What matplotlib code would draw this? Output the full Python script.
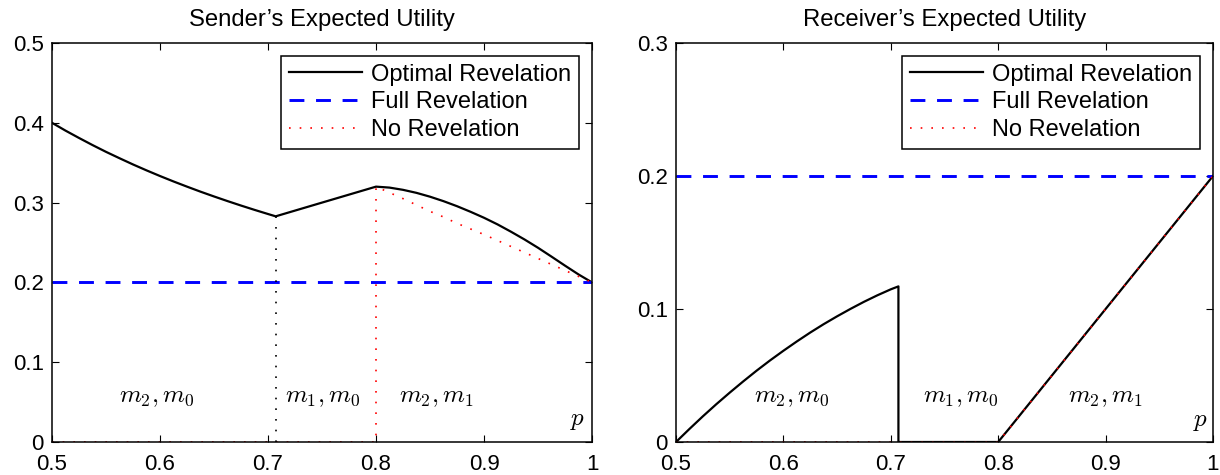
import matplotlib
matplotlib.use("Agg")
import matplotlib.pyplot as plt

plt.rcParams['font.family'] = ['Liberation Sans', 'DejaVu Sans']
plt.rcParams['mathtext.fontset'] = 'cm'

# ---------------- data ----------------
P_STAR = 0.7071
P_B = 0.8

# Sender: optimal revelation
s_opt_p = [0.5, 0.5125, 0.525, 0.5375, 0.55, 0.5625, 0.575, 0.5875, 0.6, 0.6125,
           0.625, 0.6375, 0.65, 0.6625, 0.675, 0.6875, 0.7, P_STAR,
           0.75, P_B,
           0.8125, 0.825, 0.8375, 0.85, 0.8625, 0.875, 0.8875, 0.9, 0.9125,
           0.925, 0.9375, 0.95, 0.9625, 0.975, 0.9875, 1.0]
s_opt_v = [0.4000, 0.3902, 0.3810, 0.3721, 0.3636, 0.3556, 0.3478, 0.3404, 0.3333, 0.3265,
           0.3200, 0.3137, 0.3077, 0.3019, 0.2963, 0.2909, 0.2857, 0.2828,
           0.3000, 0.3200,
           0.3188, 0.3160, 0.3122, 0.3074, 0.3018, 0.2955, 0.2885, 0.2810, 0.2727,
           0.2635, 0.2538, 0.2434, 0.2323, 0.2210, 0.2100, 0.2000]
# Sender: no revelation
s_no_p = [0.5, P_B, P_B, 0.8125, 0.825, 0.8375, 0.85, 0.8625, 0.875, 0.8875, 0.9,
          0.9125, 0.925, 0.9375, 0.95, 0.9625, 0.975, 0.9875, 1.0]
s_no_v = [0.0, 0.0, 0.320, 0.3125, 0.305, 0.297, 0.289, 0.282, 0.274, 0.267, 0.260,
          0.2525, 0.245, 0.2375, 0.230, 0.2225, 0.215, 0.2075, 0.200]
# Sender: full revelation
s_full = 0.2

# Receiver: optimal revelation
r_opt_p = [0.5, 0.5125, 0.525, 0.5375, 0.55, 0.5625, 0.575, 0.5875, 0.6, 0.6125,
           0.625, 0.6375, 0.65, 0.6625, 0.675, 0.6875, 0.7, P_STAR,
           P_STAR, P_B, 1.0]
r_opt_v = [0.0, 0.0098, 0.0193, 0.0284, 0.0371, 0.0455, 0.0536, 0.0613, 0.0686, 0.0756,
           0.0823, 0.0886, 0.0945, 0.1001, 0.1054, 0.1103, 0.1148, 0.1170,
           0.0, 0.0, 0.200]
# Receiver: no revelation
r_no_p = [0.5, P_B, 1.0]
r_no_v = [0.0, 0.0, 0.200]
# Receiver: full revelation
r_full = 0.2

region_labels = [r'$m_2, m_0$', r'$m_1, m_0$', r'$m_2, m_1$']
s_label_pos = [(0.597, 0.056), (0.751, 0.056), (0.856, 0.056)]
r_label_pos = [(0.608, 0.034), (0.765, 0.034), (0.900, 0.034)]

x_ticks = [0.5, 0.6, 0.7, 0.8, 0.9, 1.0]
x_tick_labels = ['0.5', '0.6', '0.7', '0.8', '0.9', '1']
s_yticks = [0, 0.1, 0.2, 0.3, 0.4, 0.5]
s_ytick_labels = ['0', '0.1', '0.2', '0.3', '0.4', '0.5']
r_yticks = [0, 0.1, 0.2, 0.3]
r_ytick_labels = ['0', '0.1', '0.2', '0.3']

TICK_FS = 16
LEG_FS = 17
TITLE_FS = 17.2
MATH_FS = 18
DOT = (0, (1, 5.4))
DASH = (5.1, 4.0)

fig = plt.figure(figsize=(12.2, 4.75), dpi=100)
ax1 = fig.add_axes([52/1220, 33/475, 540/1220, 399/475])
ax2 = fig.add_axes([676/1220, 33/475, 537/1220, 399/475])


def style(ax, yticks, ylabels, ymax, title):
    ax.set_xlim(0.5, 1.0)
    ax.set_ylim(0, ymax)
    ax.set_xticks(x_ticks)
    ax.set_xticklabels(x_tick_labels)
    ax.set_yticks(yticks)
    ax.set_yticklabels(ylabels)
    ax.tick_params(direction='in', top=True, right=True, length=5, width=0.8,
                   labelsize=TICK_FS)
    ax.tick_params(axis='x', pad=9)
    ax.tick_params(axis='y', pad=6)
    for sp in ax.spines.values():
        sp.set_linewidth(1.1)
    ax.set_title(title, fontsize=TITLE_FS, pad=12)


# ---- Sender ----
ax1.plot(s_opt_p, s_opt_v, color='black', lw=1.6, label='Optimal Revelation')
ax1.plot([0.5, 1.0], [s_full, s_full], color='blue', lw=2.1,
         dashes=DASH, label='Full Revelation')
ax1.plot(s_no_p, s_no_v, color='red', lw=1.2, linestyle=DOT, label='No Revelation')
ax1.plot([P_STAR, P_STAR], [0, s_opt_v[17]], color='black', lw=1.2, linestyle=DOT)
for (x, y), t in zip(s_label_pos, region_labels):
    ax1.text(x, y, t, fontsize=MATH_FS, ha='center', va='center')
ax1.text(0.987, 0.027, r'$p$', fontsize=MATH_FS, ha='center', va='center')
style(ax1, s_yticks, s_ytick_labels, 0.5, 'Sender\u2019s Expected Utility')

# ---- Receiver ----
ax2.plot(r_opt_p, r_opt_v, color='black', lw=1.6, label='Optimal Revelation')
ax2.plot([0.5, 1.0], [r_full, r_full], color='blue', lw=2.1,
         dashes=DASH, label='Full Revelation')
ax2.plot(r_no_p, r_no_v, color='red', lw=1.2, linestyle=DOT, label='No Revelation')
for (x, y), t in zip(r_label_pos, region_labels):
    ax2.text(x, y, t, fontsize=MATH_FS, ha='center', va='center')
ax2.text(0.988, 0.016, r'$p$', fontsize=MATH_FS, ha='center', va='center')
style(ax2, r_yticks, r_ytick_labels, 0.3, 'Receiver\u2019s Expected Utility')

for ax in (ax1, ax2):
    leg = ax.legend(loc='upper right', fontsize=LEG_FS, fancybox=False, framealpha=1,
                    edgecolor='black', handlelength=3.1, handletextpad=0.4,
                    labelspacing=0.25, borderpad=0.32, borderaxespad=0.55)
    leg.get_frame().set_linewidth(1.1)

fig.savefig('out.png', dpi=100)
